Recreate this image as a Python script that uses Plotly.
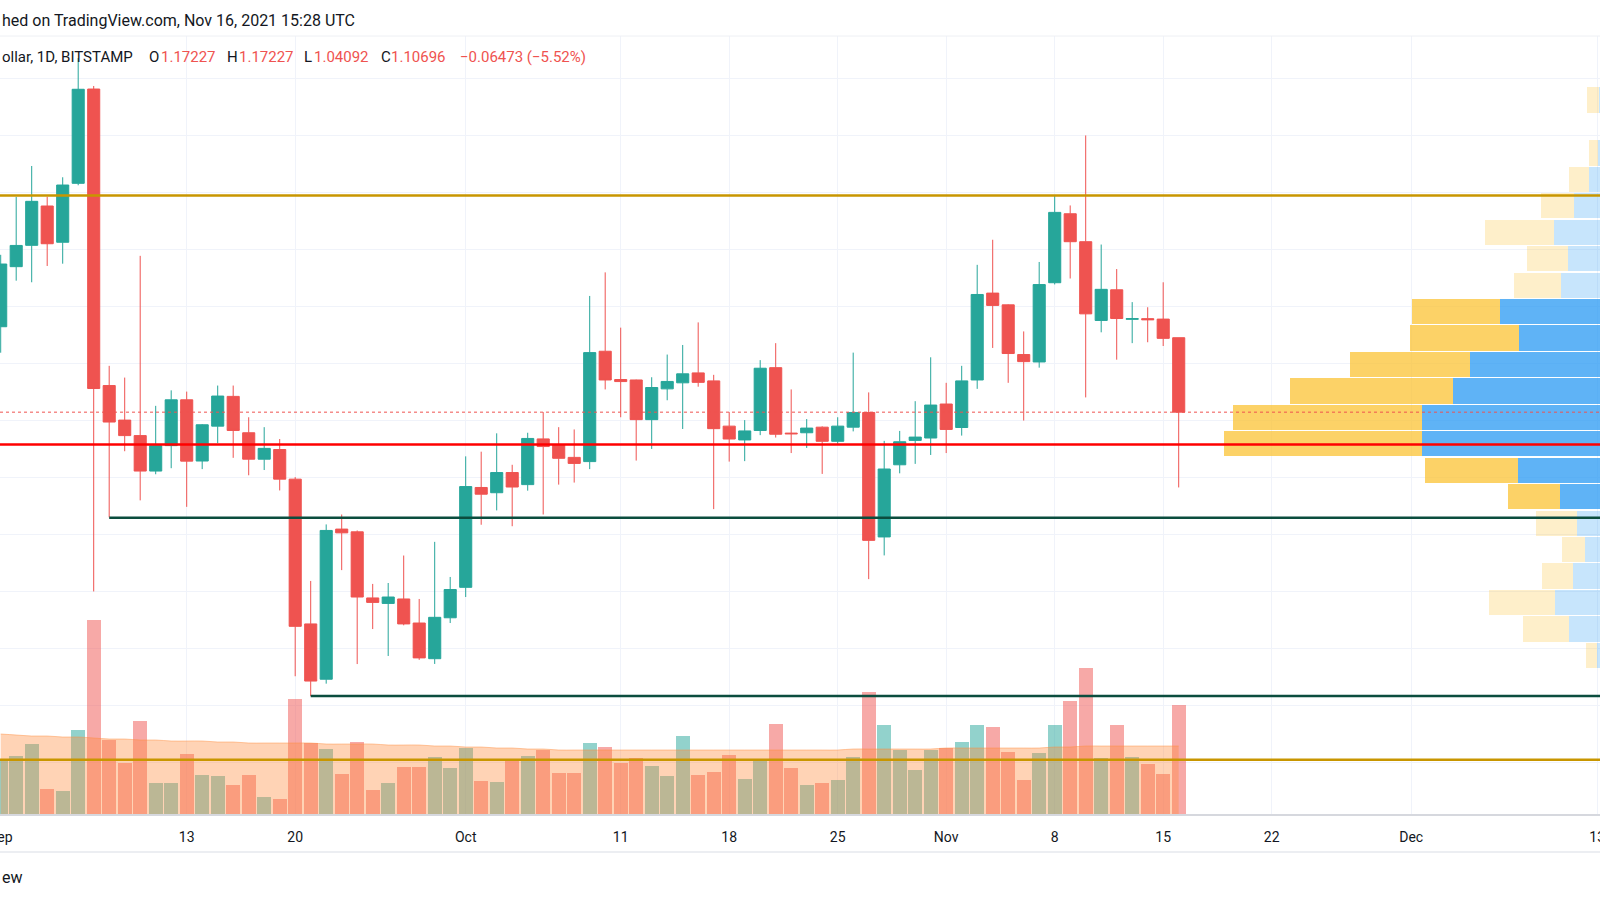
# XRP / U.S. Dollar daily chart (Bitstamp), TradingView-style snapshot
import pandas as pd
import plotly.graph_objects as go

# Daily candles, Sep 1 - Nov 16 2021
dates = pd.date_range("2021-09-01", "2021-11-16", freq="D")

opens = [
    1.1819, 1.2346, 1.2533, 1.2878, 1.2560, 1.3077, 1.3904, 1.1303, 1.1000, 1.0864,
    1.0553, 1.0776, 1.1178, 1.0641, 1.0947, 1.1208, 1.0889, 1.0657, 1.0742, 1.0482,
    0.9212, 0.8727, 1.0044, 1.0020, 0.9440, 0.9392, 0.9431, 0.9220, 0.8907, 0.9266,
    0.9533, 1.0409, 1.0363, 1.0540, 1.0434, 1.0835, 1.0785, 1.0673, 1.0636, 1.1604,
    1.1356, 1.1352, 1.1004, 1.1274, 1.1327, 1.1414, 1.1344, 1.0947, 1.0826, 1.0909,
    1.1460, 1.0886, 1.0889, 1.0938, 1.0814, 1.0938, 1.1067, 0.9975, 1.0608, 1.0822,
    1.0843, 1.1141, 1.0935, 1.1352, 1.2114, 1.2011, 1.1575, 1.1510, 1.2205, 1.2810,
    1.2565, 1.1874, 1.2143, 1.1884, 1.1890, 1.1886, 1.17227,
]
highs = [
    1.2450, 1.2958, 1.3229, 1.2960, 1.3130, 1.4176, 1.3931, 1.1476, 1.1373, 1.2441,
    1.1125, 1.1261, 1.1250, 1.0965, 1.1303, 1.1303, 1.1025, 1.0938, 1.0834, 1.0500,
    0.9589, 1.0085, 1.0172, 1.0032, 0.9563, 0.9571, 0.9812, 0.9431, 0.9932, 0.9624,
    1.0682, 1.0723, 1.0884, 1.0608, 1.0889, 1.1070, 1.0938, 1.0918, 1.2089, 1.2296,
    1.1811, 1.1355, 1.1376, 1.1575, 1.1659, 1.1857, 1.1397, 1.1070, 1.1000, 1.1526,
    1.1675, 1.1269, 1.1009, 1.0945, 1.1025, 1.1592, 1.1243, 1.0818, 1.0905, 1.1166,
    1.1551, 1.1327, 1.1476, 1.2362, 1.2582, 1.2015, 1.1778, 1.2387, 1.2967, 1.2883,
    1.3497, 1.2540, 1.2325, 1.2035, 1.1990, 1.2209, 1.17227,
]
lows = [
    1.1591, 1.2223, 1.2209, 1.2352, 1.2372, 1.3060, 0.9497, 1.0147, 1.0727, 1.0296,
    1.0525, 1.0578, 1.0239, 1.0570, 1.0797, 1.0669, 1.0516, 1.0562, 1.0383, 0.8753,
    0.8579, 0.8688, 0.9684, 0.8860, 0.9167, 0.8931, 0.9200, 0.8897, 0.8861, 0.9220,
    0.9448, 1.0082, 1.0208, 1.0069, 1.0381, 1.0172, 1.0434, 1.0452, 1.0570, 1.1269,
    1.1025, 1.0645, 1.0747, 1.1174, 1.0922, 1.1293, 1.0219, 1.0636, 1.0640, 1.0868,
    1.0847, 1.0711, 1.0756, 1.0528, 1.0785, 1.0901, 0.9605, 0.9813, 1.0533, 1.0616,
    1.0694, 1.0711, 1.0864, 1.1274, 1.1633, 1.1327, 1.0996, 1.1460, 1.2190, 1.2242,
    1.1199, 1.1770, 1.1530, 1.1675, 1.1683, 1.1650, 1.04092,
]
closes = [
    1.2369, 1.2532, 1.2919, 1.2547, 1.3062, 1.3902, 1.1277, 1.0983, 1.0864, 1.0553,
    1.0776, 1.1178, 1.0640, 1.0959, 1.1211, 1.0909, 1.0657, 1.0752, 1.0482, 0.9191,
    0.8711, 1.0032, 1.0011, 0.9448, 0.9401, 0.9448, 0.9212, 0.8914, 0.9270, 0.9514,
    1.0417, 1.0350, 1.0540, 1.0413, 1.0839, 1.0768, 1.0665, 1.0620, 1.1592, 1.1352,
    1.1338, 1.1004, 1.1286, 1.1339, 1.1406, 1.1331, 1.0925, 1.0834, 1.0905, 1.1455,
    1.0876, 1.0880, 1.0930, 1.0814, 1.0947, 1.1067, 0.9945, 1.0571, 1.0810, 1.0851,
    1.1132, 1.0918, 1.1344, 1.2102, 1.2006, 1.1584, 1.1513, 1.2189, 1.2822, 1.2565,
    1.1932, 1.2147, 1.1891, 1.1890, 1.1880, 1.17169, 1.10696,
]

# Volume (relative units) and its moving average
volumes = [
    54.6, 58.4, 69.7, 24.9, 23.5, 83.9, 193.8, 74.4, 51.3, 92.8,
    31.0, 30.6, 59.8, 38.6, 37.6, 29.1, 39.0, 16.9, 15.0, 115.5,
    70.6, 65.0, 40.5, 72.0, 24.0, 30.6, 47.5, 47.5, 57.0, 45.7,
    65.9, 32.9, 32.4, 53.2, 58.4, 64.5, 40.9, 40.9, 70.6, 67.4,
    50.8, 56.0, 48.0, 37.6, 77.7, 38.6, 42.3, 59.3, 34.8, 53.7,
    90.0, 46.1, 28.7, 31.5, 34.3, 57.0, 121.6, 88.6, 64.0, 43.8,
    63.6, 66.4, 71.6, 88.6, 86.7, 61.7, 34.3, 61.2, 89.5, 112.7,
    146.2, 55.6, 88.6, 57.0, 49.9, 40.0, 108.9,
]
volume_ma = [
    80, 79, 78, 78, 77, 77, 76, 75, 75, 74,
    74, 73, 73, 73, 72, 72, 71, 71, 71, 71,
    71, 70, 70, 70, 70, 69, 69, 69, 68, 68,
    67, 67, 66, 66, 65, 65, 64, 64, 64, 64,
    64, 64, 64, 64, 64, 64, 64, 64, 64, 64,
    64, 64, 64, 64, 64, 65, 65, 65, 65, 65,
    65, 66, 66, 66, 66, 66, 66, 66, 67, 67,
    68, 68, 68, 68, 68, 68, 68,
]

# Visible-range volume profile, rows from the lowest price bin upwards
profile_low = 0.882
profile_step = 0.0232
profile_yellow = [11.3, 46, 65.7, 31.3, 23.3, 41.3, 52.6, 93.3, 198, 189.6, 163,
                  120.3, 109, 88, 47, 41.3, 69.3, 32.7, 20, 9, 0, 12]
profile_blue = [2.7, 31.3, 45, 26.7, 14.7, 22.7, 39.7, 81.7, 178.3, 177.7, 147.3,
                129.7, 81, 100, 39, 32, 45.7, 26, 11, 2, 0, 1]
value_area = range(6, 14)

# Drawn price levels
gold_levels = [1.297, 0.802]
red_level = 1.0786
support_levels = [("2021-09-08", 1.0144), ("2021-09-21", 0.8579)]

tick_dates = ["2021-09-01", "2021-09-13", "2021-09-20", "2021-10-01", "2021-10-11",
              "2021-10-18", "2021-10-25", "2021-11-01", "2021-11-08", "2021-11-15",
              "2021-11-22", "2021-12-01", "2021-12-13"]
tick_labels = ["Sep", "13", "20", "Oct", "11", "18", "25", "Nov", "8", "15", "22", "Dec", "13"]

UP = "#26A69A"
DOWN = "#EF5350"
TEXT = "#131722"
GRID = "#F0F3FA"
FONT = "Roboto"

W, H = 1600, 900
PANE_TOP, PANE_BOTTOM = 36, 814


def py(px):
    """Paper y from a pixel row."""
    return 1 - px / H


fig = go.Figure()

# Volume bars with MA area overlaid
vol_colors = [
    "rgba(38,166,154,0.5)" if c >= o else "rgba(239,83,80,0.5)"
    for o, c in zip(opens, closes)
]
fig.add_trace(
    go.Bar(
        x=dates, y=volumes, marker_color=vol_colors, marker_line_width=0,
        yaxis="y2", hoverinfo="skip", showlegend=False,
    )
)
fig.add_trace(
    go.Scatter(
        x=dates, y=volume_ma, mode="lines", yaxis="y2",
        line=dict(color="rgba(255,140,60,0.45)", width=1, shape="spline"),
        fill="tozeroy", fillcolor="rgba(255,140,60,0.38)",
        hoverinfo="skip", showlegend=False,
    )
)

# Candles
fig.add_trace(
    go.Candlestick(
        x=dates, open=opens, high=highs, low=lows, close=closes,
        increasing=dict(line=dict(color=UP, width=1), fillcolor=UP),
        decreasing=dict(line=dict(color=DOWN, width=1), fillcolor=DOWN),
        whiskerwidth=0, hoverinfo="skip", showlegend=False,
    )
)

# Volume profile from the right edge
profile_prices = [profile_low + (i + 0.5) * profile_step for i in range(len(profile_blue))]
blue_cols = ["rgba(33,150,243,0.72)" if i in value_area else "rgba(33,150,243,0.25)"
             for i in range(len(profile_blue))]
yellow_cols = ["rgba(251,192,45,0.72)" if i in value_area else "rgba(251,192,45,0.25)"
               for i in range(len(profile_yellow))]
for vals, cols in ((profile_blue, blue_cols), (profile_yellow, yellow_cols)):
    fig.add_trace(
        go.Bar(
            x=vals, y=profile_prices, orientation="h", xaxis="x2",
            width=profile_step * 0.955, marker_color=cols, marker_line_width=0,
            hoverinfo="skip", showlegend=False,
        )
    )

# Horizontal levels
for lvl in gold_levels:
    fig.add_shape(type="line", xref="paper", x0=0, x1=1, yref="y", y0=lvl, y1=lvl,
                  line=dict(color="#C89600", width=2.5))
fig.add_shape(type="line", xref="paper", x0=0, x1=1, yref="y", y0=red_level, y1=red_level,
              line=dict(color="#FF0000", width=2.5))
for start, lvl in support_levels:
    fig.add_shape(type="line", xref="x", x0=start, x1="2021-12-14", yref="y", y0=lvl, y1=lvl,
                  line=dict(color="#0B4D3E", width=2.5))
fig.add_shape(type="line", xref="paper", x0=0, x1=1, yref="y", y0=closes[-1], y1=closes[-1],
              line=dict(color=DOWN, width=1, dash="dot"))

# Frame lines
fig.add_shape(type="line", xref="paper", yref="paper", x0=0, x1=1,
              y0=py(PANE_TOP), y1=py(PANE_TOP), line=dict(color="#EEF0F4", width=1))
fig.add_shape(type="line", xref="paper", yref="paper", x0=0, x1=1,
              y0=py(852), y1=py(852), line=dict(color="#E6E8EE", width=1.5))

# Header and symbol legend
fig.add_annotation(text="hed on TradingView.com, Nov 16, 2021 15:28 UTC",
                   xref="paper", yref="paper", x=0, y=py(20), xanchor="left", yanchor="middle",
                   showarrow=False, font=dict(family=FONT, size=16, color=TEXT))

change = closes[-1] - closes[-2]
pct = change / closes[-2] * 100
legend_items = [
    (0, "ollar, 1D, BITSTAMP", TEXT),
    (147, "O", TEXT), (159, f"{opens[-1]:.5f}", DOWN),
    (225, "H", TEXT), (237, f"{highs[-1]:.5f}", DOWN),
    (302, "L", TEXT), (312, f"{lows[-1]:.5f}", DOWN),
    (379, "C", TEXT), (389, f"{closes[-1]:.5f}", DOWN),
    (458, f"{change:.5f} ({pct:.2f}%)".replace("-", "\u2212"), DOWN),
]
for px, txt, col in legend_items:
    fig.add_annotation(text=txt, xref="paper", yref="paper", x=px / W, y=py(57),
                       xanchor="left", yanchor="middle", showarrow=False,
                       font=dict(family=FONT, size=15, color=col))

fig.add_annotation(text="ew", xref="paper", yref="paper", x=0, y=py(877),
                   xanchor="left", yanchor="middle", showarrow=False,
                   font=dict(family=FONT, size=16, color=TEXT))

# Axis scales: 15.5 px per day, 1140 px per unit of price
x_start = pd.Timestamp("2021-09-01") - pd.Timedelta(days=0.7 / 15.5)
x_end = x_start + pd.Timedelta(days=W / 15.5)
y_lo = 1.10 + (420.1 - PANE_BOTTOM) / 1140
y_hi = 1.10 + (420.1 - PANE_TOP) / 1140

fig.update_layout(
    width=W, height=H,
    margin=dict(l=0, r=0, t=0, b=0, pad=0),
    paper_bgcolor="white", plot_bgcolor="white",
    barmode="stack", bargap=0.1,
    boxgap=0.22, boxgroupgap=0,
    font=dict(family=FONT, color=TEXT),
    showlegend=False,
    xaxis=dict(
        type="date", range=[x_start, x_end], automargin=False,
        tickvals=tick_dates, ticktext=tick_labels,
        ticks="outside", ticklen=9, tickcolor="rgba(0,0,0,0)",
        tickfont=dict(family=FONT, size=14, color=TEXT),
        ticklabeloverflow="allow",
        showgrid=True, gridcolor=GRID, gridwidth=1,
        showline=True, linecolor="#D6D8DE", linewidth=2,
        zeroline=False, rangeslider=dict(visible=False), fixedrange=True,
    ),
    xaxis2=dict(overlaying="x", range=[W, 0], visible=False, showgrid=False,
                automargin=False),
    yaxis=dict(
        domain=[py(PANE_BOTTOM), py(PANE_TOP)], range=[y_lo, y_hi], automargin=False,
        tick0=0, dtick=0.05, showticklabels=False, ticks="",
        showgrid=True, gridcolor=GRID, gridwidth=1, zeroline=False,
    ),
    yaxis2=dict(overlaying="y", range=[0, PANE_BOTTOM - PANE_TOP], visible=False,
                showgrid=False, automargin=False),
)

fig.write_html("out.html", config={"displayModeBar": False},
               post_script="document.body.style.margin='0';")
